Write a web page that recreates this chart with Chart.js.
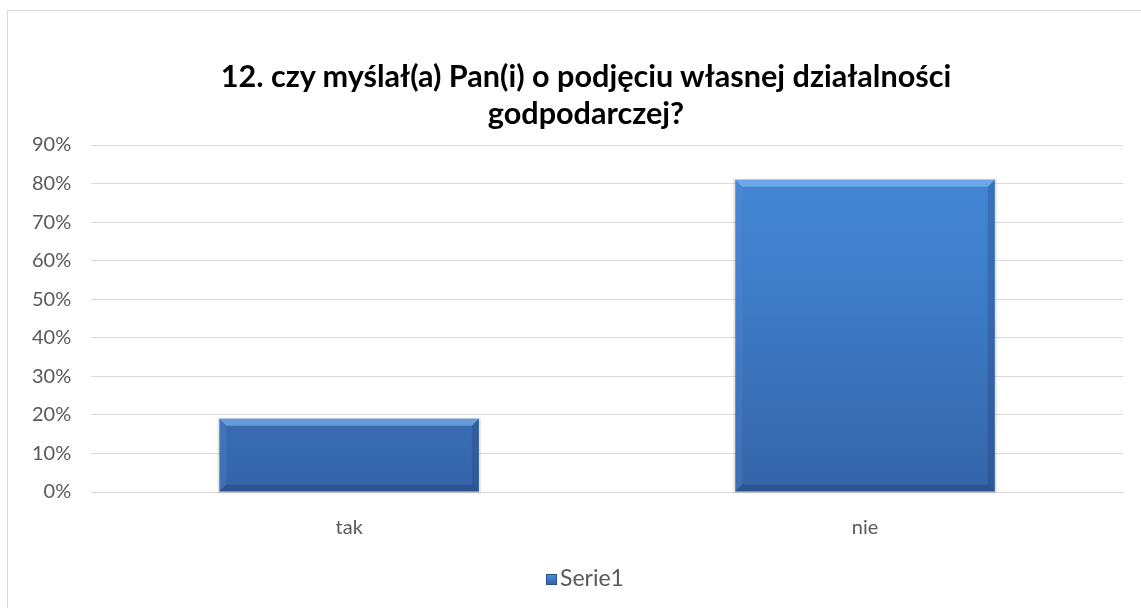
<!DOCTYPE html>
<html>
<head>
<meta charset="utf-8">
<script src="https://cdn.jsdelivr.net/npm/chart.js@4.4.1/dist/chart.umd.min.js"></script>
<style>
  html, body { margin: 0; padding: 0; background: #fff; overflow: hidden; width: 1141px; height: 608px; }
  #frame {
    position: absolute; left: 7px; top: 10px;
    width: 1200px; height: 700px;
    border: 1px solid #d9d9d9; box-sizing: border-box;
  }
  #wrap { position: absolute; left: 0; top: 0; width: 1141px; height: 608px; }
  canvas { display: block; }
  #title {
    position: absolute; left: 0; top: 58px; width: 1172px;
    text-align: center; font: bold 30.6px/36.7px Lato, "Open Sans", sans-serif; color: #000;
  }
  #legend {
    position: absolute; left: 0; top: 562px; width: 1170px; height: 30px;
    text-align: center; font: 23px/30px Lato, "Open Sans", sans-serif; color: #595959;
  }
  #legend .box {
    display: inline-block; width: 9px; height: 9px; margin-right: 3px; vertical-align: 1px;
    background: linear-gradient(#4a8ad8, #3564a8); border: 1px solid #2a4f82;
  }
</style>
</head>
<body>
<div id="frame"></div>
<div id="wrap"><canvas id="chart"></canvas></div>
<div id="title"></div>
<div id="legend"></div>
<script>
// dane z wykresu
const categories = ['tak', 'nie'];
const values = [0.19, 0.81];
const seriesName = 'Serie1';
const titleLines = ['12. czy myślał(a) Pan(i) o podjęciu własnej działalności', 'godpodarczej?'];

const FONT = 'Lato, "Open Sans", sans-serif';

// tytuł i legenda jako zwykły tekst (wyśrodkowane jak w Excelu)
document.getElementById('title').innerHTML = titleLines.join('<br>');
document.getElementById('legend').innerHTML = '<span class="box"></span>' + seriesName;

// gradient słupka
const barFill = (context) => {
  const { chart } = context;
  const area = chart.chartArea;
  if (!area) return '#3f7bc8';
  const g = chart.ctx.createLinearGradient(0, area.top, 0, area.bottom);
  g.addColorStop(0, '#4689d8');
  g.addColorStop(0.4, '#3f7dc9');
  g.addColorStop(1, '#3564a8');
  return g;
};

// delikatne fazowanie krawędzi (jak w Excelu)
const bevel = {
  id: 'bevel',
  beforeDatasetsDraw(chart) {
    const ctx = chart.ctx;
    chart.getDatasetMeta(0).data.forEach(bar => {
      const p = bar.getProps(['x', 'y', 'base', 'width'], true);
      const l = p.x - p.width / 2;
      ctx.save();
      ctx.fillStyle = 'rgba(0,0,0,0.10)';
      ctx.fillRect(l - 2, p.y - 1, p.width + 4, p.base - p.y + 3);
      ctx.restore();
    });
  },
  afterDatasetsDraw(chart) {
    const ctx = chart.ctx;
    chart.getDatasetMeta(0).data.forEach(bar => {
      const p = bar.getProps(['x', 'y', 'base', 'width'], true);
      const l = p.x - p.width / 2, r = p.x + p.width / 2;
      const t = p.y, b = p.base, d = 7;
      const quad = (pts, c) => {
        ctx.fillStyle = c;
        ctx.beginPath();
        ctx.moveTo(pts[0], pts[1]);
        for (let i = 2; i < pts.length; i += 2) ctx.lineTo(pts[i], pts[i + 1]);
        ctx.closePath(); ctx.fill();
      };
      ctx.save();
      quad([l, t, r, t, r - d, t + d, l + d, t + d], 'rgba(140,195,250,0.55)');
      quad([l, t, l + d, t + d, l + d, b - d, l, b], 'rgba(90,140,210,0.25)');
      quad([r, t, r - d, t + d, r - d, b - d, r, b], 'rgba(25,55,105,0.25)');
      quad([l, b, r, b, r - d, b - d, l + d, b - d], 'rgba(20,45,95,0.30)');
      ctx.restore();
    });
  }
};

new Chart(document.getElementById('chart'), {
  type: 'bar',
  data: {
    labels: categories,
    datasets: [{
      label: seriesName,
      data: values,
      backgroundColor: barFill,
      borderWidth: 0,
      barPercentage: 0.503,
      categoryPercentage: 1.0
    }]
  },
  plugins: [bevel],
  options: {
    responsive: true,
    maintainAspectRatio: false,
    animation: false,
    layout: { padding: { left: 12, right: 18, top: 145, bottom: 52 } },
    plugins: {
      title: { display: false },
      legend: { display: false },
      tooltip: { enabled: false }
    },
    scales: {
      x: {
        grid: { display: false },
        border: { color: '#d9d9d9' },
        ticks: { color: '#595959', font: { family: FONT, size: 20 }, padding: 16 }
      },
      y: {
        min: 0,
        max: 0.9,
        ticks: {
          stepSize: 0.1,
          color: '#595959',
          font: { family: FONT, size: 20 },
          padding: 20,
          callback: v => Math.round(v * 100) + '%'
        },
        grid: { color: '#d9d9d9', drawTicks: false },
        border: { display: false }
      }
    }
  }
});
</script>
</body>
</html>
